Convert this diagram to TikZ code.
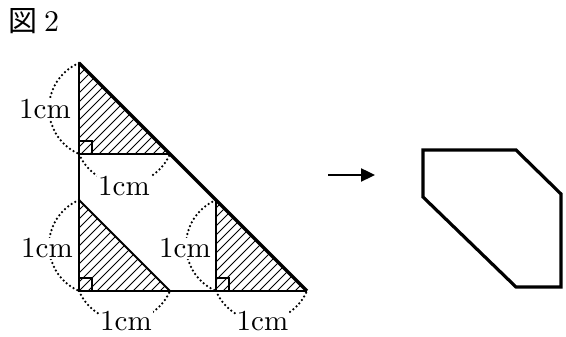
\documentclass[tikz,border=0pt]{standalone}
\usepackage{fontspec}
\newfontfamily\cjk{Noto Sans CJK JP}
\newfontfamily\labfont{lmroman10-regular.otf}
\usetikzlibrary{arrows.meta}
\begin{document}
\begin{tikzpicture}[x=1pt,y=1pt,
  outer/.style={line width=2.6pt, line join=miter},
  hyp/.style={line width=3.2pt},
  inner/.style={line width=1.8pt},
  hatch/.style={line width=0.9pt},
  dotarc/.style={line width=2.5pt, dash pattern=on 0pt off 4.2pt, line cap=round},
  lab/.style={font=\labfont\fontsize{29}{31}\selectfont, fill=white, inner sep=1pt},
  rmark/.style={line width=1.1pt},
  poly/.style={line width=3.2pt, line join=miter}]
\useasboundingbox (0,0) rectangle (566,337);
% title
\node[anchor=base west, inner sep=0pt] (title) at (8,305) {{\fontsize{29}{32}\cjk 図}\hspace{7pt}{\labfont\fontsize{30}{34}\selectfont 2}};
% points
\coordinate (O) at (79,46);
\coordinate (T) at (79,274);
\coordinate (R) at (307,46);
\coordinate (M1) at (79,183);
\coordinate (M2) at (170,183);
\coordinate (L1) at (79,137);
\coordinate (L2) at (170,46);
\coordinate (Q1) at (216,46);
\coordinate (Q2) at (216,137);
% hatching
\begin{scope}
  \clip (T) -- (M1) -- (M2) -- cycle;
  \foreach \k in {-300,-291,...,300} \draw[hatch] (\k,0) -- ++(300,300);
\end{scope}
\begin{scope}
  \clip (L1) -- (O) -- (L2) -- cycle;
  \foreach \k in {-300,-291,...,300} \draw[hatch] (\k,0) -- ++(300,300);
\end{scope}
\begin{scope}
  \clip (Q2) -- (Q1) -- (R) -- cycle;
  \foreach \k in {-300,-291,...,300} \draw[hatch] (\k,0) -- ++(300,300);
\end{scope}
% right angle marks
\draw[rmark] (M1) rectangle ++(13,13);
\draw[rmark] (O) rectangle ++(13,13);
\draw[rmark] (Q1) rectangle ++(13,13);
% inner lines
\draw[inner] (M1) -- (M2);
\draw[inner] (L1) -- (L2);
\draw[inner, line width=1.4pt] (Q1) -- (Q2);
% outer triangle
\draw[outer] (T) -- (O) -- (R);
\draw[hyp] (T) -- (R);
% dotted arcs
\draw[dotarc] (T) arc[start angle=113.2, end angle=246.8, radius=49.5];
\draw[dotarc] (M1) arc[start angle=203.2, end angle=336.8, radius=49.5];
\draw[dotarc] (L1) arc[start angle=113.2, end angle=246.8, radius=49.5];
\draw[dotarc] (O) arc[start angle=203.2, end angle=336.8, radius=49.5];
\draw[dotarc] (Q2) arc[start angle=113.2, end angle=246.8, radius=49.5];
\draw[dotarc] (Q1) arc[start angle=203.2, end angle=336.8, radius=49.5];
% labels
\node[lab] (la) at (45,228) {1cm};
\node[lab] (lb) at (124,151) {1cm};
\node[lab] (lc) at (47,88.5) {1cm};
\node[lab] (ld) at (185,88.5) {1cm};
\node[lab] (le) at (126,15.5) {1cm};
\node[lab] (lf) at (262.5,15.5) {1cm};
% arrow
\coordinate (A1) at (328,162);
\coordinate (A2) at (375,162);
\draw[line width=2.4pt, -{Triangle[length=14pt,width=13pt]}] (A1) -- (A2);
% resulting shape
\coordinate (P1) at (423,187);
\coordinate (P2) at (516,187);
\coordinate (P3) at (561,143);
\coordinate (P4) at (561,50);
\coordinate (P5) at (516,50);
\coordinate (P6) at (423,140);
\draw[poly] (P1) -- (P2) -- (P3) -- (P4) -- (P5) -- (P6) -- cycle;
\end{tikzpicture}
\end{document}
